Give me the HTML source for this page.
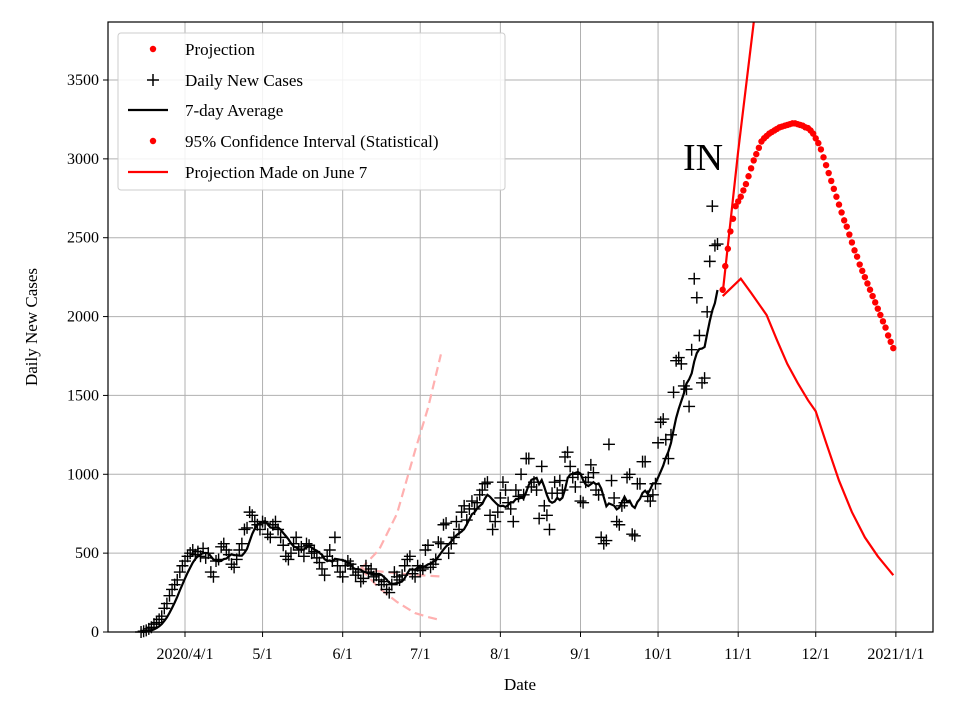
<!DOCTYPE html>
<html><head><meta charset="utf-8"><style>
body{margin:0;background:#fff}
svg{font-family:"Liberation Serif",serif;display:block}
</style></head><body>
<svg id="chart" width="960" height="720">
<g id="grid"></g>
<g id="marks"></g>
<rect x="108" y="22" width="825" height="610" fill="none" stroke="#000" stroke-width="1.2"/>
<g id="axes"></g>
<text x="703" y="170" font-size="38" text-anchor="middle">IN</text>
<text x="520" y="690" font-size="17" text-anchor="middle">Date</text>
<text x="0" y="0" font-size="17" text-anchor="middle" transform="translate(37,327) rotate(-90)">Daily New Cases</text>
<g>
<rect x="118" y="33" width="387" height="157" rx="3" fill="#fff" fill-opacity="0.85" stroke="#ccc"/>
<g><circle cx="153" cy="49" r="3.2" fill="red"/><text x="185" y="55" font-size="17">Projection</text></g>
<g><path d="M147 80h12M153 74v12" stroke="#000" stroke-width="1.5"/><text x="185" y="86" font-size="17">Daily New Cases</text></g>
<g><path d="M128 110h40" stroke="#000" stroke-width="2.2"/><text x="185" y="116" font-size="17">7-day Average</text></g>
<g><circle cx="153" cy="141" r="3.2" fill="red"/><text x="185" y="147" font-size="17">95% Confidence Interval (Statistical)</text></g>
<g><path d="M128 172h40" stroke="red" stroke-width="2.2"/><text x="185" y="178" font-size="17">Projection Made on June 7</text></g>
</g>
</svg>
<script>
const xTickLabels=["2020/4/1","5/1","6/1","7/1","8/1","9/1","10/1","11/1","12/1","2021/1/1"];
const xTickDates=["2020-04-01","2020-05-01","2020-06-01","2020-07-01","2020-08-01","2020-09-01","2020-10-01","2020-11-01","2020-12-01","2021-01-01"];
const yTicks=[0,500,1000,1500,2000,2500,3000,3500];
const dailyStart="2020-03-15";
const dailyCases=[0,5,10,20,30,50,60,80,100,150,180,
230,270,300,330,380,420,450,
480,500,520,490,510,480,530,470,500,
380,350,450,460,540,560,520,490,430,410,
460,520,560,650,660,760,740,700,680,650,
700,690,620,600,680,700,650,600,550,480,
460,500,560,600,520,540,480,560,550,500,
510,470,440,400,360,480,520,450,600,420,380,
350,420,450,430,400,360,380,320,340,420,
380,400,350,360,330,300,320,270,250,300,
380,350,330,360,420,460,480,370,350,420,
390,400,520,550,410,430,460,570,560,680,
690,500,560,600,700,650,760,800,710,780,
830,780,820,870,900,940,950,740,650,700,760,
850,950,900,820,780,700,900,860,1000,870,
1100,1100,920,950,900,720,1050,800,740,650,
880,950,880,960,900,1110,1140,1050,980,920,1000,
830,820,950,980,1060,1010,900,870,600,560,
580,1190,960,850,700,680,800,820,980,1000,
620,610,940,940,1080,1080,860,830,870,940,
1200,1330,1350,1220,1100,1250,1520,1720,1740,1700,
1560,1540,1430,1790,2240,2120,1880,1580,1610,2030,
2350,2700,2450,2460];
const projStart="2020-10-26";
const projection=[2170,2320,2430,2540,2620,2700,
2730,2760,2800,2840,2890,2940,2990,3030,3070,3110,3130,3145,3160,3170,3180,3190,3200,3205,3210,3215,3220,3225,3225,3220,3215,3210,3200,3195,3180,3160,
3130,3100,3060,3010,2960,2910,2860,2810,2760,2710,2660,2610,2570,2520,2470,2420,2380,2330,2290,2250,2210,2170,2130,2090,2050,2010,1970,1930,1880,1840,1800];
const ciUpperDates=["2020-10-26","2020-11-01","2020-11-08"];
const ciUpperVals=[2150,3050,4000];
const ciLowerDates=["2020-10-26","2020-11-02","2020-11-06","2020-11-12","2020-11-16","2020-11-20","2020-11-24","2020-11-28","2020-12-01","2020-12-05","2020-12-10","2020-12-15","2020-12-20","2020-12-25","2020-12-31"];
const ciLowerVals=[2130,2240,2150,2010,1850,1700,1580,1470,1400,1200,960,760,600,480,360];
const juneDates=["2020-06-08","2020-06-15","2020-06-22","2020-06-29","2020-07-04","2020-07-09"];
const juneUpper=[400,520,750,1150,1420,1760];
const juneMid=[400,385,372,362,357,352];
const juneLower=[400,280,190,120,95,75];

const NS="http://www.w3.org/2000/svg";
const X0=185,PXD=2.585,Y0=632,PXV=552/3500;
function day(s){const p=s.split('-').map(Number);return (Date.UTC(p[0],p[1]-1,p[2])-Date.UTC(2020,3,1))/864e5;}
function xs(d){return X0+d*PXD;}
function ys(v){return Y0-v*PXV;}
function el(t,a,parent){const e=document.createElementNS(NS,t);for(const k in a)e.setAttribute(k,a[k]);parent.appendChild(e);return e;}
const grid=document.getElementById('grid'),marks=document.getElementById('marks'),axes=document.getElementById('axes');
xTickDates.forEach((d,i)=>{const x=xs(day(d));
 const g=el('line',{x1:x,x2:x,y1:22,y2:632,stroke:'#b0b0b0','stroke-width':1},grid);
 
 const t=el('line',{x1:x,x2:x,y1:632,y2:637,stroke:'#000'},axes);
 
 const tx=el('text',{x:x,y:659,'font-size':16,'text-anchor':'middle'},axes);tx.textContent=xTickLabels[i];
 });
yTicks.forEach(v=>{const y=ys(v);
 const g=el('line',{x1:108,x2:933,y1:y,y2:y,stroke:'#b0b0b0','stroke-width':1},grid);
 
 const t=el('line',{x1:103,x2:108,y1:y,y2:y,stroke:'#000'},axes);
 
 const tx=el('text',{x:99,y:y+5,'font-size':16,'text-anchor':'end'},axes);tx.textContent=v;
 });
function line(dates,vals,attrs,name){const p=dates.map((d,i)=>xs(day(d)).toFixed(1)+','+ys(vals[i]).toFixed(1)).join(' ');
 const e=el('polyline',Object.assign({points:p,fill:'none'},attrs),marks);
 }
line(juneDates,juneUpper,{stroke:'#ffb0b0','stroke-width':2.2,'stroke-dasharray':'9,5'},'june-projection-upper');
line(juneDates,juneMid,{stroke:'#ffb0b0','stroke-width':2.2,'stroke-dasharray':'9,5'},'june-projection-mid');
line(juneDates,juneLower,{stroke:'#ffb0b0','stroke-width':2.2,'stroke-dasharray':'9,5'},'june-projection-lower');
const d0=day(dailyStart);
dailyCases.forEach((v,i)=>{const x=xs(d0+i),y=ys(v);
 const p=el('path',{d:`M${x-6} ${y}h12M${x} ${y-6}v12`,stroke:'#000','stroke-width':1.4},marks);
 });
const avgPts=dailyCases.map((v,i)=>{const w=dailyCases.slice(Math.max(0,i-6),i+1);const a=w.reduce((s,q)=>s+q,0)/7;return xs(d0+i).toFixed(1)+','+ys(a).toFixed(1);}).join(' ');
const avg=el('polyline',{points:avgPts,fill:'none',stroke:'#000','stroke-width':2.2},marks);

const clip=el('clipPath',{id:'pc'},marks);el('rect',{x:108,y:22,width:825,height:610},clip);
const cg=el('g',{'clip-path':'url(#pc)'},marks);
function cline(dates,vals,name){const p=dates.map((d,i)=>xs(day(d)).toFixed(1)+','+ys(vals[i]).toFixed(1)).join(' ');
 const e=el('polyline',{points:p,fill:'none',stroke:'red','stroke-width':2.2},cg);
 }
cline(ciUpperDates,ciUpperVals,'ci-upper-line');
cline(ciLowerDates,ciLowerVals,'ci-lower-line');
const p0=day(projStart);
projection.forEach((v,i)=>{const c=el('circle',{cx:xs(p0+i),cy:ys(v),r:3.2,fill:'red'},marks);
 });
</script>
</body></html>
